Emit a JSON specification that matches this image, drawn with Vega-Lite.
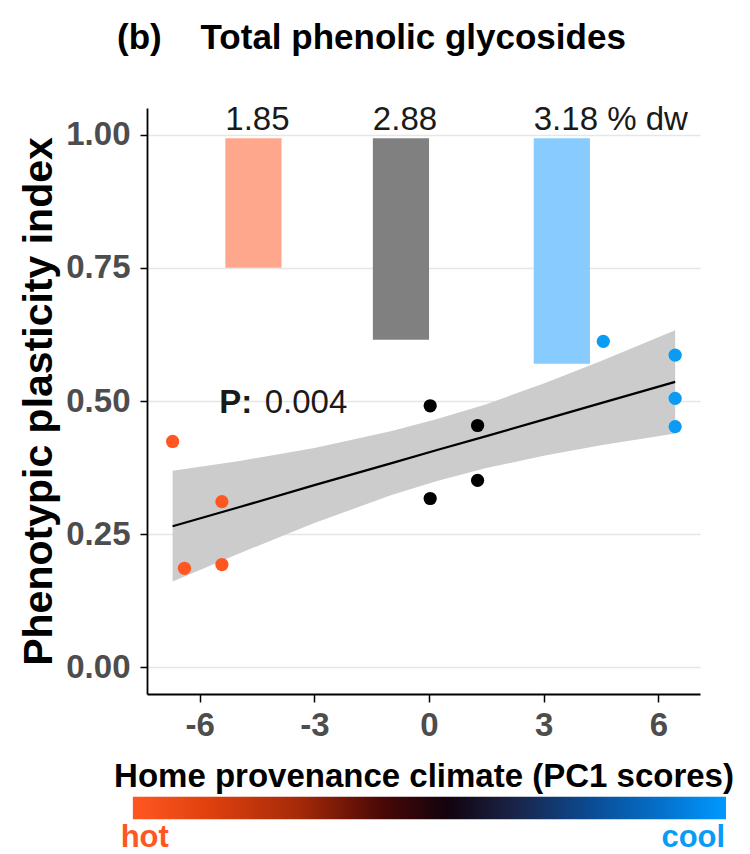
{
  "$schema": "https://vega.github.io/schema/vega-lite/v6.json",
  "width": 553,
  "height": 586,
  "autosize": {"type": "none"},
  "padding": {"left": 147, "top": 108, "right": 50, "bottom": 160},
  "background": "white",
  "config": {"view": {"stroke": null}, "font": "Liberation Sans"},
  "title": {
    "text": "(b)\u00a0\u00a0\u00a0\u00a0Total phenolic glycosides",
    "font": "Liberation Sans",
    "fontSize": 35,
    "fontWeight": "bold",
    "color": "#000000",
    "anchor": "start",
    "frame": "group",
    "dx": -30,
    "offset": 20,
    "baseline": "alphabetic"
  },
  "datasets": {
    "points": [
      {"pc1": -6.71, "ppi": 0.424, "group": "hot"},
      {"pc1": -6.40, "ppi": 0.186, "group": "hot"},
      {"pc1": -5.42, "ppi": 0.311, "group": "hot"},
      {"pc1": -5.42, "ppi": 0.193, "group": "hot"},
      {"pc1": 0.03, "ppi": 0.491, "group": "mid"},
      {"pc1": 0.03, "ppi": 0.317, "group": "mid"},
      {"pc1": 1.27, "ppi": 0.454, "group": "mid"},
      {"pc1": 1.27, "ppi": 0.351, "group": "mid"},
      {"pc1": 4.56, "ppi": 0.612, "group": "cool"},
      {"pc1": 6.44, "ppi": 0.586, "group": "cool"},
      {"pc1": 6.44, "ppi": 0.505, "group": "cool"},
      {"pc1": 6.44, "ppi": 0.452, "group": "cool"}
    ],
    "band": [
      {"pc1": -6.71, "fit": 0.265, "lo": 0.161, "hi": 0.369},
      {"pc1": -5.0, "fit": 0.300, "lo": 0.213, "hi": 0.387},
      {"pc1": -3.0, "fit": 0.342, "lo": 0.271, "hi": 0.412},
      {"pc1": -1.0, "fit": 0.383, "lo": 0.323, "hi": 0.443},
      {"pc1": 0.21, "fit": 0.408, "lo": 0.350, "hi": 0.466},
      {"pc1": 1.5, "fit": 0.434, "lo": 0.374, "hi": 0.494},
      {"pc1": 3.0, "fit": 0.465, "lo": 0.397, "hi": 0.533},
      {"pc1": 4.5, "fit": 0.496, "lo": 0.417, "hi": 0.575},
      {"pc1": 6.44, "fit": 0.536, "lo": 0.439, "hi": 0.633}
    ],
    "bars": [
      {"group": "hot", "x1": -5.33, "x2": -3.86, "ymin": 0.75, "ymax": 0.993, "label": "1.85"},
      {"group": "mid", "x1": -1.47, "x2": 0.0, "ymin": 0.615, "ymax": 0.993, "label": "2.88"},
      {"group": "cool", "x1": 2.74, "x2": 4.21, "ymin": 0.570, "ymax": 0.993, "label": "3.18 % dw"}
    ],
    "ptext": [{"pc1": -5.49, "ppi": 0.478, "t": "P:"}],
    "pval": [{"pc1": -4.30, "ppi": 0.478, "t": "0.004"}],
    "colorbar": [{"from": -7.75, "to": 7.77, "top": -0.243, "bottom": -0.285}],
    "ends": [
      {"pc1": -8.07, "ppi": -0.337, "group": "hot", "t": "hot"},
      {"pc1": 6.08, "ppi": -0.337, "group": "cool", "t": "cool"}
    ]
  },
  "encoding": {
    "x": {
      "type": "quantitative",
      "scale": {"domain": [-7.38, 7.09], "nice": false, "zero": false}
    },
    "y": {
      "type": "quantitative",
      "scale": {"domain": [-0.05, 1.05], "nice": false, "zero": false}
    }
  },
  "layer": [
    {
      "data": {"name": "band"},
      "mark": {"type": "area", "color": "#CCCCCC", "opacity": 1},
      "encoding": {
        "x": {
          "field": "pc1",
          "type": "quantitative",
          "axis": {
            "values": [-6, -3, 0, 3, 6],
            "labelExpr": "datum.value + ''",
            "title": "Home provenance climate (PC1 scores)",
            "titleFont": "Liberation Sans",
            "titleFontSize": 33,
            "titleFontWeight": "bold",
            "titleColor": "#000000",
            "titlePadding": 18,
            "labelFont": "Liberation Sans",
            "labelFontSize": 33,
            "labelFontWeight": "bold",
            "labelColor": "#4D4D4D",
            "labelPadding": 7,
            "tickSize": 8,
            "tickColor": "#000000",
            "tickWidth": 1.5,
            "domainColor": "#000000",
            "domainWidth": 1.8,
            "grid": false
          }
        },
        "y": {
          "field": "lo",
          "type": "quantitative",
          "axis": {
            "values": [0, 0.25, 0.5, 0.75, 1],
            "format": ".2f",
            "title": "Phenotypic plasticity index",
            "titleFont": "Liberation Sans",
            "titleFontSize": 41,
            "titleFontWeight": "bold",
            "titleColor": "#000000",
            "titlePadding": 5,
            "labelFont": "Liberation Sans",
            "labelFontSize": 33,
            "labelFontWeight": "bold",
            "labelColor": "#4D4D4D",
            "labelPadding": 10,
            "tickSize": 7,
            "tickColor": "#000000",
            "tickWidth": 1.5,
            "domainColor": "#000000",
            "domainWidth": 1.8,
            "grid": true,
            "gridColor": "#E6E6E6",
            "gridWidth": 1.3
          }
        },
        "y2": {"field": "hi"}
      }
    },
    {
      "data": {"name": "band"},
      "mark": {"type": "line", "color": "#000000", "strokeWidth": 2.2},
      "encoding": {
        "x": {"field": "pc1", "type": "quantitative"},
        "y": {"field": "fit", "type": "quantitative"}
      }
    },
    {
      "data": {"name": "bars"},
      "mark": {"type": "rect"},
      "encoding": {
        "x": {"field": "x1", "type": "quantitative"},
        "x2": {"field": "x2"},
        "y": {"field": "ymin", "type": "quantitative"},
        "y2": {"field": "ymax"},
        "fill": {
          "field": "group",
          "type": "nominal",
          "scale": {"domain": ["hot", "mid", "cool"], "range": ["#FFA78C", "#808080", "#87CBFF"]},
          "legend": null
        }
      }
    },
    {
      "data": {"name": "bars"},
      "mark": {"type": "text", "align": "left", "baseline": "alphabetic", "dy": -5, "fontSize": 33, "font": "Liberation Sans", "color": "#1A1A1A"},
      "encoding": {
        "x": {"field": "x1", "type": "quantitative"},
        "y": {"datum": 1, "type": "quantitative"},
        "text": {"field": "label"}
      }
    },
    {
      "data": {"name": "points"},
      "mark": {"type": "circle", "size": 175, "opacity": 1},
      "encoding": {
        "x": {"field": "pc1", "type": "quantitative"},
        "y": {"field": "ppi", "type": "quantitative"},
        "color": {
          "field": "group",
          "type": "nominal",
          "scale": {"domain": ["hot", "mid", "cool"], "range": ["#FF5722", "#000000", "#0A9BF5"]},
          "legend": null
        }
      }
    },
    {
      "data": {"name": "ptext"},
      "mark": {"type": "text", "align": "left", "baseline": "alphabetic", "fontSize": 33, "fontWeight": "bold", "font": "Liberation Sans", "color": "#1A1A1A"},
      "encoding": {
        "x": {"field": "pc1", "type": "quantitative"},
        "y": {"field": "ppi", "type": "quantitative"},
        "text": {"field": "t"}
      }
    },
    {
      "data": {"name": "pval"},
      "mark": {"type": "text", "align": "left", "baseline": "alphabetic", "fontSize": 33, "font": "Liberation Sans", "color": "#1A1A1A"},
      "encoding": {
        "x": {"field": "pc1", "type": "quantitative"},
        "y": {"field": "ppi", "type": "quantitative"},
        "text": {"field": "t"}
      }
    },
    {
      "data": {"name": "colorbar"},
      "mark": {
        "type": "rect",
        "clip": false,
        "color": {
          "gradient": "linear",
          "x1": 0, "y1": 0, "x2": 1, "y2": 0,
          "stops": [
            {"offset": 0, "color": "#FF5722"},
            {"offset": 0.12, "color": "#E2420F"},
            {"offset": 0.28, "color": "#A52A08"},
            {"offset": 0.42, "color": "#4A0806"},
            {"offset": 0.53, "color": "#12030E"},
            {"offset": 0.64, "color": "#1A2346"},
            {"offset": 0.78, "color": "#0A4E98"},
            {"offset": 0.9, "color": "#0474D0"},
            {"offset": 1, "color": "#0099FF"}
          ]
        }
      },
      "encoding": {
        "x": {"field": "from", "type": "quantitative"},
        "x2": {"field": "to"},
        "y": {"field": "top", "type": "quantitative"},
        "y2": {"field": "bottom"}
      }
    },
    {
      "data": {"name": "ends"},
      "mark": {"type": "text", "align": "left", "baseline": "alphabetic", "fontSize": 31, "fontWeight": "bold", "font": "Liberation Sans", "clip": false},
      "encoding": {
        "x": {"field": "pc1", "type": "quantitative"},
        "y": {"field": "ppi", "type": "quantitative"},
        "text": {"field": "t"},
        "color": {"field": "group", "type": "nominal", "legend": null}
      }
    }
  ]
}
